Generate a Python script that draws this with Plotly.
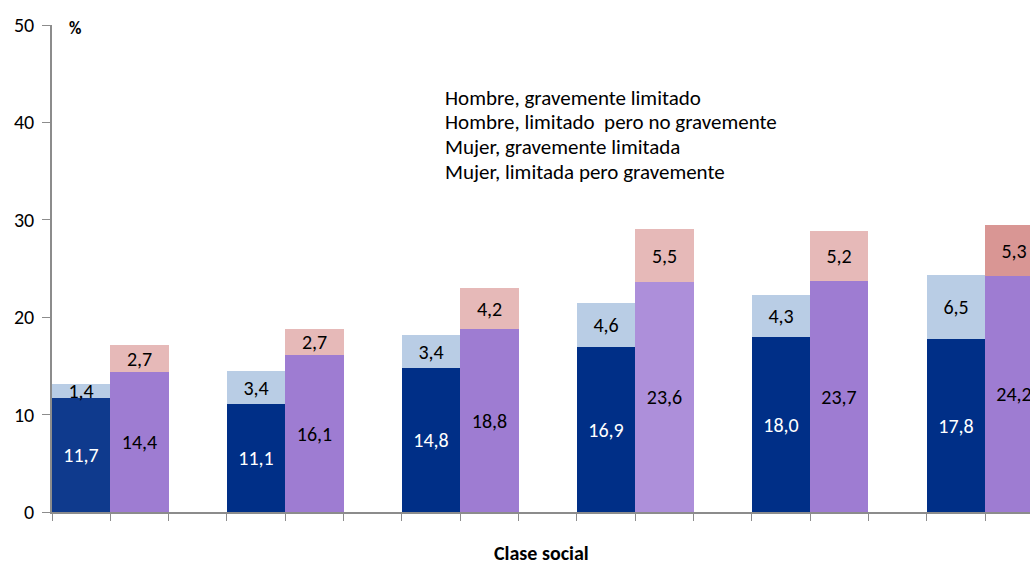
import plotly.graph_objects as go

# Data
clases = ['I', 'II', 'III', 'IVa', 'IVb', 'V']
series_names = [
    'Hombre, gravemente limitado',
    'Hombre, limitado  pero no gravemente',
    'Mujer, gravemente limitada',
    'Mujer, limitada pero gravemente',
]
hombre_grave = [11.7, 11.1, 14.8, 16.9, 18.0, 17.8]
hombre_limitado = [1.4, 3.4, 3.4, 4.6, 4.3, 6.5]
mujer_grave = [14.4, 16.1, 18.8, 23.6, 23.7, 24.2]
mujer_limitada = [2.7, 2.7, 4.2, 5.5, 5.2, 5.3]
y_ticks = [0, 10, 20, 30, 40, 50]

# each class takes 3 slots: hombre bar, mujer bar, gap
x_h = [3 * i + 0.5 for i in range(len(clases))]
x_m = [3 * i + 1.5 for i in range(len(clases))]

dark_blue = ['#0F3A8D', '#002F87', '#002F87', '#002F87', '#002F87', '#002F87']
light_blue = ['#B9CDE5'] * 6
purple = ['#9E7CD2', '#9E7CD2', '#9E7CD2', '#AD8FDA', '#9E7CD2', '#9E7CD2']
pink = ['#E6B9B8', '#E6B9B8', '#E6B9B8', '#E6B9B8', '#E6B9B8', '#D99694']

FONT = 'Carlito, Lato, Liberation Sans, sans-serif'

fig = go.Figure()


def add(x, y, colors, name, txtcolor):
    fig.add_trace(go.Bar(
        x=x, y=y, name=name, width=1,
        customdata=clases,
        marker=dict(color=colors, line=dict(width=0)),
        texttemplate='%{y:.1f}',
        textposition='inside', insidetextanchor='middle', textangle=0,
        textfont=dict(color=txtcolor, size=20, family=FONT),
        cliponaxis=True,
        showlegend=False,
    ))


add(x_h, hombre_grave, dark_blue, series_names[0], 'white')
add(x_h, hombre_limitado, light_blue, series_names[1], 'black')
add(x_m, mujer_grave, purple, series_names[2], 'black')
add(x_m, mujer_limitada, pink, series_names[3], 'black')

# text-only legend
leg_y = [0.850, 0.800, 0.749, 0.698]
annotations = [
    dict(text=n, xref='paper', yref='paper', x=0.4, y=yy, xanchor='left',
         yanchor='middle', showarrow=False,
         font=dict(size=21, color='black', family=FONT))
    for n, yy in zip(series_names, leg_y)
]
annotations.append(dict(text='<b>%</b>', xref='paper', yref='paper', x=0.0235, y=1,
                        xanchor='center', yanchor='middle', yshift=-3, showarrow=False,
                        font=dict(size=17, color='black', family=FONT)))
annotations.append(dict(text='<b>Clase social</b>', xref='paper', yref='paper', x=0.5, y=0,
                        xanchor='center', yanchor='middle', yshift=-41, showarrow=False,
                        font=dict(size=20, color='black', family=FONT)))

fig.update_layout(
    width=1030, height=564,
    margin=dict(l=52, r=0, t=25, b=52),
    barmode='stack', bargap=0,
    separators=',.',
    uniformtext=dict(minsize=20, mode='show'),
    plot_bgcolor='white', paper_bgcolor='white',
    font=dict(family=FONT, size=20, color='black'),
    xaxis=dict(range=[0, 16.77], tickvals=list(range(0, 18)), ticktext=[''] * 18,
               ticks='outside', ticklen=7, tickcolor='#8c8c8c',
               showline=True, linecolor='#8c8c8c', linewidth=1.5,
               showgrid=False, zeroline=False, fixedrange=True),
    yaxis=dict(range=[0, 50], tickvals=y_ticks, ticks='outside', ticklen=8,
               ticklabelstandoff=4,
               tickcolor='#8c8c8c', showline=True, linecolor='#8c8c8c', linewidth=1.5,
               showgrid=False, zeroline=False, tickfont=dict(size=20)),
    annotations=annotations,
)

# drop the browser's default page margin so the 1030x564 figure fills the window
fig.write_html('out.html', config={'displayModeBar': False},
               post_script="document.body.style.margin='0';document.body.style.overflow='hidden';")
